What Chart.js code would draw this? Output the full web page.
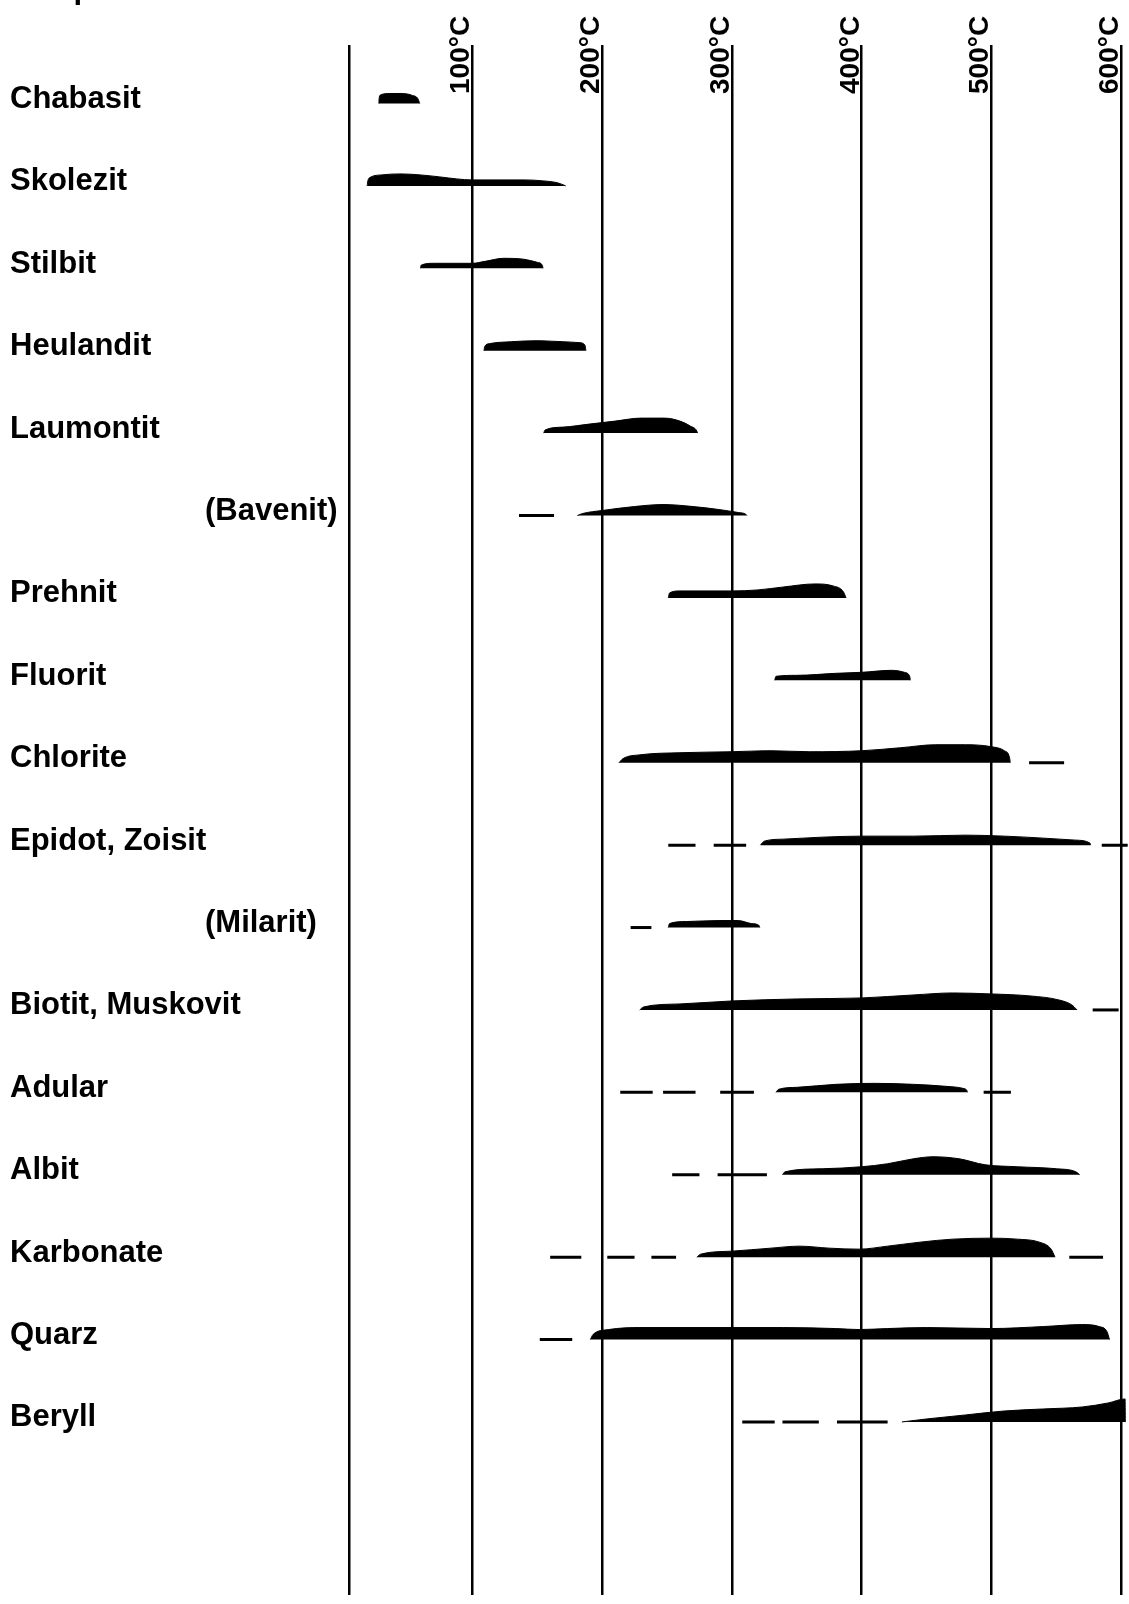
<!DOCTYPE html>
<html>
<head>
<meta charset="utf-8">
<script src="https://cdn.jsdelivr.net/npm/chart.js@4/dist/chart.umd.min.js"></script>
<style>
  html, body { margin: 0; padding: 0; background: #fff; }
  #wrap { width: 1129px; height: 1604px; position: relative; }
</style>
</head>
<body>
<div id="wrap"><canvas id="chart" width="1129" height="1604"></canvas></div>
<script>
// Mineralien (Reihenfolge von oben nach unten)
const MINERALS = ['Chabasit', 'Skolezit', 'Stilbit', 'Heulandit', 'Laumontit', '(Bavenit)', 'Prehnit',
  'Fluorit', 'Chlorite', 'Epidot, Zoisit', '(Milarit)', 'Biotit, Muskovit', 'Adular', 'Albit',
  'Karbonate', 'Quarz', 'Beryll'];

const TEMP_TICKS = [100, 200, 300, 400, 500, 600];

// Profil je Mineral: [Temperatur °C, Balkendicke]
const chabasit = [[28, 0], [28.3, 6], [30, 9], [36, 10], [46, 10], [54, 8], [58, 5], [59.5, 0]];
const skolezit = [[19, 0], [19.5, 5], [22, 9], [30, 11], [45, 12], [60, 11], [75, 9], [88, 7], [100, 6], [140, 6], [155, 5], [166, 3], [172, 0]];
const stilbit = [[60, 0], [60.5, 3], [70, 5], [100, 5], [110, 7], [124, 10], [140, 9], [150, 6], [154, 3], [154.5, 0]];
const heulandit = [[109, 0], [109.5, 4], [113, 7], [130, 9], [150, 10], [170, 9], [183, 8], [187, 5], [187.5, 0]];
const laumontit = [[155, 0], [156, 3], [170, 6], [190, 9], [210, 12], [230, 15], [248, 15], [260, 12], [268, 7], [273, 2], [273.5, 0]];
const bavenit = [[181, 0], [185, 2], [200, 5], [225, 9], [247, 11], [270, 9], [290, 6], [305, 3], [311, 1], [311.5, 0]];
const prehnit = [[251, 0], [252, 5], [260, 7], [300, 7], [320, 8], [340, 11], [364, 14], [378, 12], [386, 6], [388, 0]];
const fluorit = [[333, 0], [334, 4], [350, 5], [380, 7], [400, 8], [423, 10], [433, 8], [437, 4], [437.5, 0]];
const chlorite = [[213, 0], [216, 4], [230, 8], [260, 10], [300, 11], [330, 12], [360, 11], [400, 12], [430, 15], [457, 18], [480, 18], [500, 16], [510, 12], [514, 5], [514.5, 0]];
const epidot = [[322, 0], [325, 4], [340, 6], [370, 8], [400, 9], [440, 9], [480, 10], [510, 9], [540, 7], [565, 5], [576, 2], [576.5, 0]];
const milarit = [[251, 0], [252, 4], [265, 6], [290, 7], [305, 7], [315, 4], [321, 2], [321.5, 0]];
const biotit = [[229, 0], [232, 3], [260, 6], [300, 9], [350, 11], [400, 12], [440, 15], [470, 17], [500, 16], [530, 14], [552, 10], [562, 5], [566, 0]];
const adular = [[334, 0], [336, 3], [350, 5], [380, 8], [410, 9], [440, 8], [465, 6], [478, 4], [481, 2], [481.5, 0]];
const albit = [[339, 0], [341, 3], [370, 6], [400, 8], [420, 11], [440, 16], [455, 18], [475, 16], [495, 10], [520, 8], [550, 6], [565, 3], [568, 0]];
const karbonate = [[273, 0], [276, 3], [300, 6], [330, 9], [352, 11], [375, 9], [398, 8], [420, 11], [445, 15], [470, 18], [500, 19], [520, 18], [537, 15], [546, 8], [549, 0]];
const quarz = [[191, 0], [193, 5], [205, 10], [230, 12], [300, 12], [340, 12], [380, 11], [398, 10], [420, 11], [450, 12], [500, 11], [540, 13], [570, 15], [583, 13], [589, 8], [591, 0]];
const beryll = [[431, 0], [450, 3], [480, 7], [510, 11], [540, 13], [570, 15], [590, 19], [603, 23], [603.2, 0]];

// unsichere Bereiche (gestrichelt): [von, bis] °C
const bavenitDash = [[136, 163]];
const chloriteDash = [[529, 556]];
const epidotDash = [[251, 272], [286, 311], [585, 605]];
const milaritDash = [[222, 238]];
const biotitDash = [[578, 598]];
const adularDash = [[214, 239], [247, 272], [291, 317], [494, 515]];
const albitDash = [[254, 275], [289, 327]];
const karbonateDash = [[160, 184], [204, 225], [238, 257], [560, 586]];
const quarzDash = [[152, 177]];
const beryllDash = [[308, 333], [339, 367], [381, 420]];

const SHAPES = [chabasit, skolezit, stilbit, heulandit, laumontit, bavenit, prehnit, fluorit, chlorite,
  epidot, milarit, biotit, adular, albit, karbonate, quarz, beryll];
const DASHES = [[], [], [], [], [], bavenitDash, [], [], chloriteDash, epidotDash, milaritDash,
  biotitDash, adularDash, albitDash, karbonateDash, quarzDash, beryllDash];

const ROW_PX = 82.4;       // Zeilenabstand in px, Dicke wird in Zeilen umgerechnet
const BASE_SHIFT = 0.05;   // Balkenunterkante knapp unter Textmitte
const FONT = '"Liberation Sans", Arial, Helvetica, sans-serif';

const datasets = [];
SHAPES.forEach((shape, i) => {
  const base = i + BASE_SHIFT;
  datasets.push({
    data: shape.map(([t, d]) => ({ x: t, y: base - d / ROW_PX })),
    borderColor: '#000',
    backgroundColor: '#000',
    borderWidth: 1,
    pointRadius: 0,
    cubicInterpolationMode: 'monotone',
    fill: { value: base },
  });
  const pts = [];
  DASHES[i].forEach(([a, b]) => {
    pts.push({ x: a, y: base }, { x: b, y: base }, { x: b + 0.1, y: null });
  });
  if (pts.length) {
    datasets.push({
      data: pts,
      borderColor: '#000',
      borderWidth: 3,
      pointRadius: 0,
      fill: false,
      spanGaps: false,
    });
  }
});

const labelPlugin = {
  id: 'labels',
  afterDraw(chart) {
    const { ctx } = chart;
    const xs = chart.scales.x;
    const ys = chart.scales.y;
    ctx.save();
    ctx.fillStyle = '#000';
    ctx.font = 'bold 31px ' + FONT;
    ctx.textBaseline = 'middle';
    MINERALS.forEach((name, i) => {
      const x = name.startsWith('(') ? 205 : 10;
      ctx.fillText(name, x, ys.getPixelForValue(i));
    });
    // angeschnittene Überschrift am oberen Rand
    ctx.textBaseline = 'alphabetic';
    ctx.fillText('Sample', 8, -2);

    ctx.font = 'bold 28px ' + FONT;
    TEMP_TICKS.forEach(v => {
      ctx.save();
      ctx.translate(xs.getPixelForValue(v) - 3, 94);
      ctx.rotate(-Math.PI / 2);
      ctx.fillText(v + '°C', 0, 0);
      ctx.restore();
    });
    ctx.restore();
  },
};

new Chart(document.getElementById('chart'), {
  type: 'line',
  data: { datasets },
  options: {
    responsive: false,
    animation: false,
    layout: { padding: { left: 349, right: 0, top: 45, bottom: 9 } },
    plugins: { legend: { display: false }, tooltip: { enabled: false } },
    scales: {
      x: {
        type: 'linear',
        position: 'top',
        min: 5,
        max: 606,
        afterBuildTicks: s => { s.ticks = [5, ...TEMP_TICKS].map(v => ({ value: v })); },
        afterFit: s => { s.height = 0; },
        ticks: { display: false },
        grid: { color: '#000', lineWidth: 2.5, drawTicks: false },
        border: { display: false },
      },
      y: {
        type: 'linear',
        display: false,
        reverse: true,
        min: -0.66,
        max: 18.15,
      },
    },
  },
  plugins: [labelPlugin],
});
</script>
</body>
</html>
